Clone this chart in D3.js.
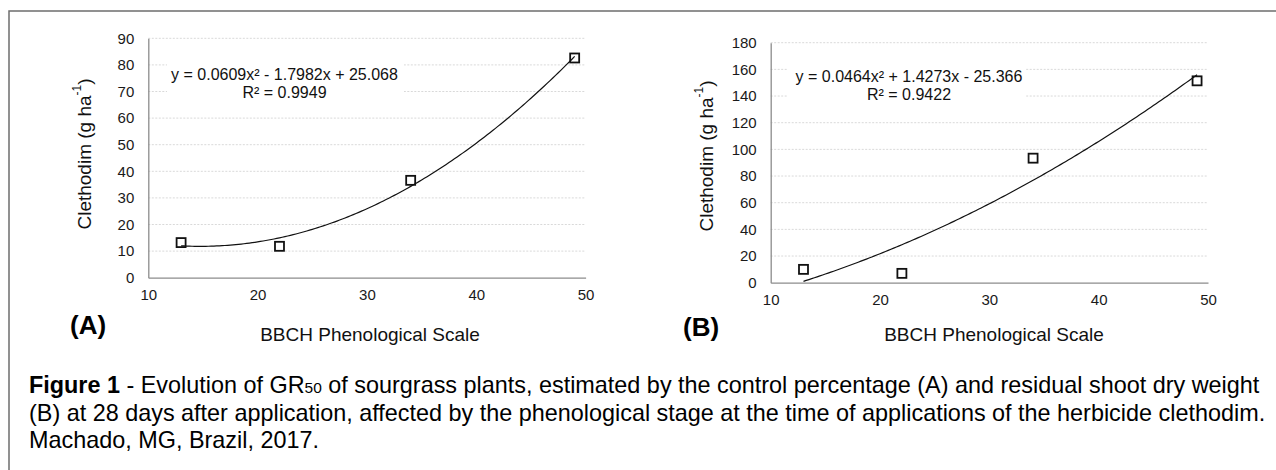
<!DOCTYPE html>
<html>
<head>
<meta charset="utf-8">
<script src="https://cdn.jsdelivr.net/npm/d3@7"></script>
<style>
  body { margin: 0; background: #fff; }
  svg { font-family: "Liberation Sans", Arial, sans-serif; display: block; }
</style>
</head>
<body>
<svg width="1276" height="470"></svg>
<script>
// data
var stages = [13, 22, 34, 49];
var controlA = [13.2, 11.8, 36.6, 82.6];     // GR50 (A), g ha-1
var dryWeightB = [10.0, 7.0, 93.4, 151.4];   // GR50 (B), g ha-1
var coefA = [0.0609, -1.7982, 25.068];        // trendline y = a x² + b x + c
var coefB = [0.0464, 1.4273, -25.366];
var xTicks = [10, 20, 30, 40, 50];
var yTicksA = [0, 10, 20, 30, 40, 50, 60, 70, 80, 90];
var yTicksB = [0, 20, 40, 60, 80, 100, 120, 140, 160, 180];
var eqA = ["y = 0.0609x² - 1.7982x + 25.068", "R² = 0.9949"];
var eqB = ["y = 0.0464x² + 1.4273x - 25.366", "R² = 0.9422"];

var svg = d3.select("svg");

// frame (top + left only, the figure is cropped)
svg.append("path")
    .attr("d", "M9,470 V11 H1276")
    .attr("fill", "none")
    .attr("stroke", "#6e6e6e")
    .attr("stroke-width", 1.5);

function panel(o) {
  var x = d3.scaleLinear().domain([10, 50]).range([o.left, o.right]);
  var y = d3.scaleLinear().domain([0, o.yMax]).range([o.bottom, o.top]);
  var g = svg.append("g");

  // gridlines
  g.selectAll(".grid")
    .data(o.yTicks.filter(function(d) { return d > 0; }))
    .enter().append("line")
      .attr("x1", o.left).attr("x2", o.right)
      .attr("y1", function(d) { return y(d); })
      .attr("y2", function(d) { return y(d); })
      .attr("stroke", "#d9d9d9")
      .attr("stroke-dasharray", "2,1.5")
      .attr("stroke-width", 1);

  // axes (no ticks, excel style)
  var yAxis = g.append("g")
      .attr("transform", "translate(" + o.left + ",0)")
      .call(d3.axisLeft(y).tickValues(o.yTicks).tickSize(0).tickPadding(14));
  var xAxis = g.append("g")
      .attr("transform", "translate(0," + o.bottom + ")")
      .call(d3.axisBottom(x).tickValues(xTicks).tickSize(0).tickPadding(12));
  [yAxis, xAxis].forEach(function(a) {
    a.select(".domain").attr("stroke", "#8c8c8c").attr("stroke-width", 1.3);
    a.selectAll("text").attr("font-size", 15).attr("fill", "#1a1a1a")
      .attr("font-family", "Liberation Sans, Arial, sans-serif");
  });

  // white box behind the trendline label
  g.append("rect")
    .attr("x", o.box[0]).attr("y", o.box[1])
    .attr("width", o.box[2]).attr("height", o.box[3])
    .attr("fill", "#fff");
  g.selectAll(".eq")
    .data(o.eq)
    .enter().append("text")
      .attr("x", o.eqX)
      .attr("y", function(d, i) { return o.eqY + i * 17.5; })
      .attr("text-anchor", "middle")
      .attr("font-size", 16)
      .attr("fill", "#111")
      .text(function(d) { return d; });

  // trendline
  var c = o.coef;
  var line = d3.line()
    .x(function(d) { return x(d); })
    .y(function(d) { return y(c[0] * d * d + c[1] * d + c[2]); });
  g.append("path")
    .datum(d3.range(stages[0], stages[stages.length - 1] + 0.01, 0.25))
    .attr("d", line)
    .attr("fill", "none")
    .attr("stroke", "#111")
    .attr("stroke-width", 1.2);

  // markers
  g.selectAll(".pt")
    .data(stages)
    .enter().append("rect")
      .attr("x", function(d) { return x(d) - 4.5; })
      .attr("y", function(d, i) { return y(o.values[i]) - 4.5; })
      .attr("width", 9).attr("height", 9)
      .attr("fill", "none")
      .attr("stroke", "#111")
      .attr("stroke-width", 1.8);

  // y title
  var yt = g.append("text")
    .attr("transform", "translate(" + o.yTitle[0] + "," + o.yTitle[1] + ") rotate(-90)")
    .attr("text-anchor", "middle")
    .attr("dominant-baseline", "central")
    .attr("font-size", 19)
    .attr("fill", "#111");
  yt.append("tspan").text("Clethodim (g ha");
  yt.append("tspan").attr("font-size", 12).attr("dy", -7).text("-1");
  yt.append("tspan").attr("dy", 7).text(")");

  // x title
  g.append("text")
    .attr("x", o.xTitle[0]).attr("y", o.xTitle[1])
    .attr("text-anchor", "middle")
    .attr("font-size", 19)
    .attr("fill", "#111")
    .text("BBCH Phenological Scale");

  // panel letter
  g.append("text")
    .attr("x", o.letter[0]).attr("y", o.letter[1])
    .attr("font-size", 26)
    .attr("font-weight", "bold")
    .attr("fill", "#000")
    .text(o.name);
}

panel({
  name: "(A)", values: controlA, coef: coefA, eq: eqA, yMax: 90, yTicks: yTicksA,
  left: 148.3, right: 585.6, top: 38.3, bottom: 277.7,
  box: [167, 58, 237, 48], eqX: 284.5, eqY: 80,
  yTitle: [84, 154], xTitle: [370, 341], letter: [70, 334]
});
panel({
  name: "(B)", values: dryWeightB, coef: coefB, eq: eqB, yMax: 180, yTicks: yTicksB,
  left: 770.7, right: 1208, top: 42.7, bottom: 282.7,
  box: [788, 58, 238, 50], eqX: 909, eqY: 82,
  yTitle: [706, 156], xTitle: [994, 341], letter: [683, 336]
});

// caption
var cap = svg.append("g").attr("font-size", 23.4).attr("fill", "#000");
var l1 = cap.append("text").attr("x", 29).attr("y", 393);
l1.append("tspan").attr("font-weight", "bold").text("Figure 1");
l1.append("tspan").text(" - Evolution of GR");
l1.append("tspan").attr("font-size", 15.5).text("50");
l1.append("tspan").text(" of sourgrass plants, estimated by the control percentage (A) and residual shoot dry weight");
cap.append("text").attr("x", 29).attr("y", 420.5)
  .text("(B) at 28 days after application, affected by the phenological stage at the time of applications of the herbicide clethodim.");
cap.append("text").attr("x", 29).attr("y", 448)
  .text("Machado, MG, Brazil, 2017.");
</script>
</body>
</html>
